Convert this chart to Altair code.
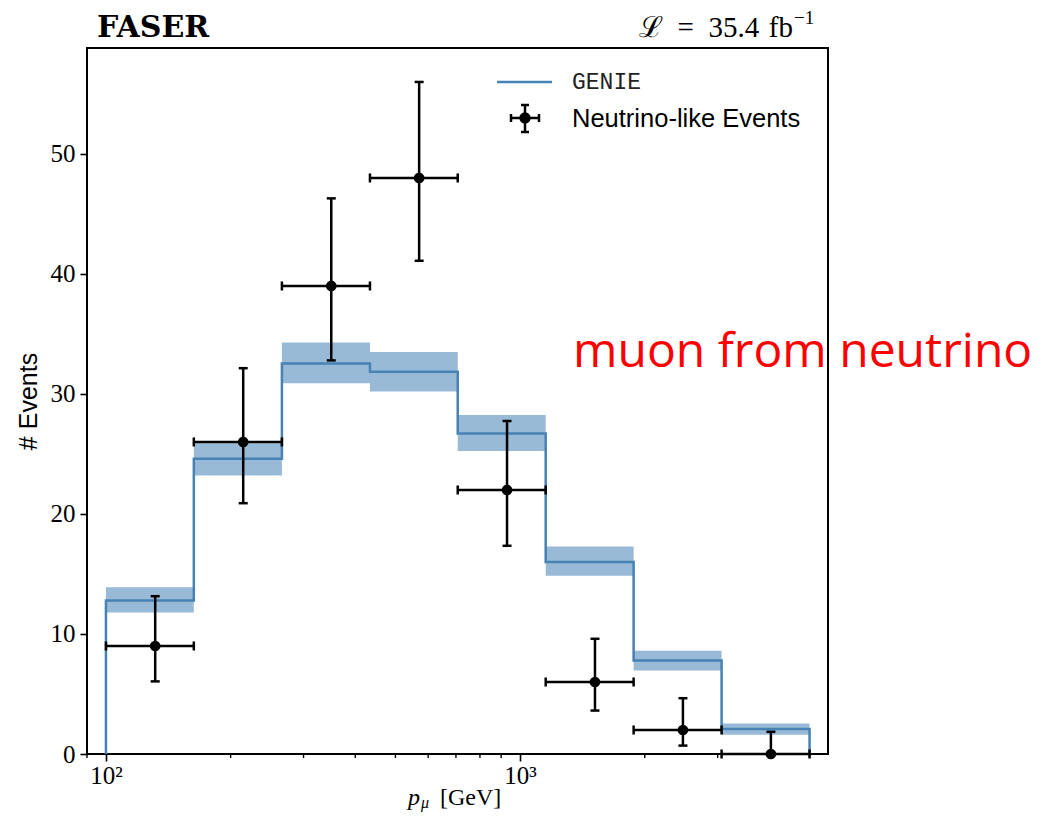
import altair as alt
import pandas as pd

# ---- data ----
edges = [100, 163, 266, 434, 707, 1153, 1880, 3066, 5000]
genie = [12.8, 24.6, 32.55, 31.85, 26.7, 16.0, 7.8, 2.08]
genie_lo = [11.8, 23.2, 30.9, 30.2, 25.25, 14.85, 6.95, 1.6]
genie_hi = [13.9, 25.9, 34.3, 33.5, 28.25, 17.3, 8.6, 2.55]
centers = [131.5, 214.5, 350, 570.5, 930, 1516.5, 2473, 4033]
counts = [9, 26, 39, 48, 22, 6, 2, 0]
err_lo = [6.05, 20.9, 32.8, 41.1, 17.35, 3.62, 0.7, 0]
err_hi = [13.15, 32.15, 46.3, 56.0, 27.75, 9.6, 4.65, 1.85]
xtick_major = [100, 1000]
xtick_minor = [90, 200, 300, 400, 500, 600, 700, 800, 900, 2000, 3000, 4000, 5000]
ytick = [0, 10, 20, 30, 40, 50]

W, H = 741, 706
BLUE = "#4682b4"
SERIF = "Liberation Serif"
SANS = "Liberation Sans"

step_df = pd.DataFrame({
    "x": [edges[0]] + edges[:-1] + [edges[-1], edges[-1]],
    "y": [0] + genie + [genie[-1], 0],
})
step_df["o"] = range(len(step_df))

band_df = pd.DataFrame({
    "x": edges,
    "lo": genie_lo + [genie_lo[-1]],
    "hi": genie_hi + [genie_hi[-1]],
})

pts_df = pd.DataFrame({
    "c": centers, "n": counts, "lo": err_lo, "hi": err_hi,
    "l": edges[:-1], "r": edges[1:],
})
minor_df = pd.DataFrame({"v": xtick_minor})
one = pd.DataFrame({"a": [0]})

xscale = alt.Scale(type="log", domain=[90, 5540], nice=False)
yscale = alt.Scale(domain=[0, 58.83], nice=False, zero=False)

xaxis = alt.Axis(values=xtick_major, tickSize=7, tickWidth=1.6, tickColor="black",
                 labelExpr="datum.value == 100 ? '10²' : (datum.value == 1000 ? '10³' : '')",
                 labelFont=SERIF, labelFontSize=25, labelColor="black", labelPadding=2,
                 labelFlush=False, domain=False, grid=False, title=None)
yaxis = alt.Axis(values=ytick, tickSize=7, tickWidth=1.6, tickColor="black",
                 labelFont=SERIF, labelFontSize=25, labelColor="black", labelPadding=5,
                 domain=False, grid=False, title="# Events", titleFont=SANS,
                 titleFontSize=25, titleFontWeight="normal", titleColor="black",
                 titleX=-59, titleY=H / 2, titleAngle=270, titleBaseline="middle",
                 titleAlign="center")

X = lambda f: alt.X(f, type="quantitative", scale=xscale, axis=xaxis)
Y = lambda f: alt.Y(f, type="quantitative", scale=yscale, axis=yaxis)

band = alt.Chart(band_df).mark_area(interpolate="step-after", color=BLUE, opacity=0.55).encode(
    x=X("x"), y=Y("lo"), y2="hi")
line = alt.Chart(step_df).mark_line(interpolate="step-after", color=BLUE, strokeWidth=2.5).encode(
    x=X("x"), y=Y("y"), order="o:Q")

base = alt.Chart(pts_df)
hbar = base.mark_rule(color="black", strokeWidth=2.5).encode(x=X("l"), x2="r", y=Y("n"))
vbar = base.mark_rule(color="black", strokeWidth=2.5).encode(x=X("c"), y=Y("lo"), y2="hi")
cap_lo = base.mark_tick(orient="horizontal", size=9, thickness=2.5, color="black", opacity=1).encode(
    x=X("c"), y=Y("lo"))
cap_hi = base.mark_tick(orient="horizontal", size=9, thickness=2.5, color="black", opacity=1).encode(
    x=X("c"), y=Y("hi"))
cap_l = base.mark_tick(orient="vertical", size=9, thickness=2.5, color="black", opacity=1).encode(
    x=X("l"), y=Y("n"))
cap_r = base.mark_tick(orient="vertical", size=9, thickness=2.5, color="black", opacity=1).encode(
    x=X("r"), y=Y("n"))
dots = base.mark_circle(size=115, color="black", opacity=1).encode(x=X("c"), y=Y("n"))

minor = alt.Chart(minor_df).mark_rule(color="black", strokeWidth=1.4).encode(
    x=X("v"), y=alt.value(H), y2=alt.value(H + 4))


def txt(s, x, y, **kw):
    return alt.Chart(one).mark_text(**kw).encode(x=alt.value(x), y=alt.value(y), text=alt.value(s))


def seg(x1, y1, x2, y2, color="black", w=2.5):
    return alt.Chart(one).mark_rule(color=color, strokeWidth=w).encode(
        x=alt.value(x1), x2=alt.value(x2), y=alt.value(y1), y2=alt.value(y2))


anno = [
    txt("FASER", 10, -20, align="left", baseline="middle", font="DejaVu Serif",
        fontWeight="bold", fontSize=30, color="black"),
    txt("ℒ\u2002=\u200235.4\u2004fb", 706, -20, align="right", baseline="middle", font=SERIF,
        fontSize=29, color="black"),
    txt("−1", 707, -30, align="left", baseline="middle", font=SERIF, fontSize=19, color="black"),
    txt("muon from neutrino", 486, 319, align="left", baseline="alphabetic", font="Open Sans",
        fontSize=48, color="#ff0000"),
    # legend
    seg(410, 34, 465, 34, color=BLUE, w=2.5),
    txt("GENIE", 485, 34, align="left", baseline="middle", font="Liberation Mono",
        fontSize=23, color="#222222"),
    seg(424, 70, 452, 70),
    seg(438, 57, 438, 84),
    seg(424, 66, 424, 74),
    seg(452, 66, 452, 74),
    seg(434, 57, 442, 57),
    seg(434, 84, 442, 84),
    alt.Chart(one).mark_circle(size=130, color="black", opacity=1).encode(
        x=alt.value(438), y=alt.value(70)),
    txt("Neutrino-like Events", 485, 71, align="left", baseline="middle", font=SANS,
        fontSize=25.5, color="black"),
    # x-axis title
    txt("p", 321, 757, align="left", baseline="alphabetic", font=SERIF, fontStyle="italic",
        fontSize=24, color="black"),
    txt("μ", 334, 760, align="left", baseline="alphabetic", font=SERIF, fontStyle="italic",
        fontSize=16, color="black"),
    txt("[GeV]", 353, 757, align="left", baseline="alphabetic", font=SERIF, fontSize=24,
        color="black"),
]

chart = alt.layer(band, line, hbar, vbar, cap_lo, cap_hi, cap_l, cap_r, dots, minor, *anno).properties(
    width=W, height=H,
    autosize=alt.AutoSizeParams(type="none"),
    padding={"left": 79, "top": 40, "right": 206, "bottom": 58},
    background="white",
).configure_view(stroke="black", strokeWidth=2)

chart.save("out.html", embed_options={"renderer": "svg", "actions": False})
